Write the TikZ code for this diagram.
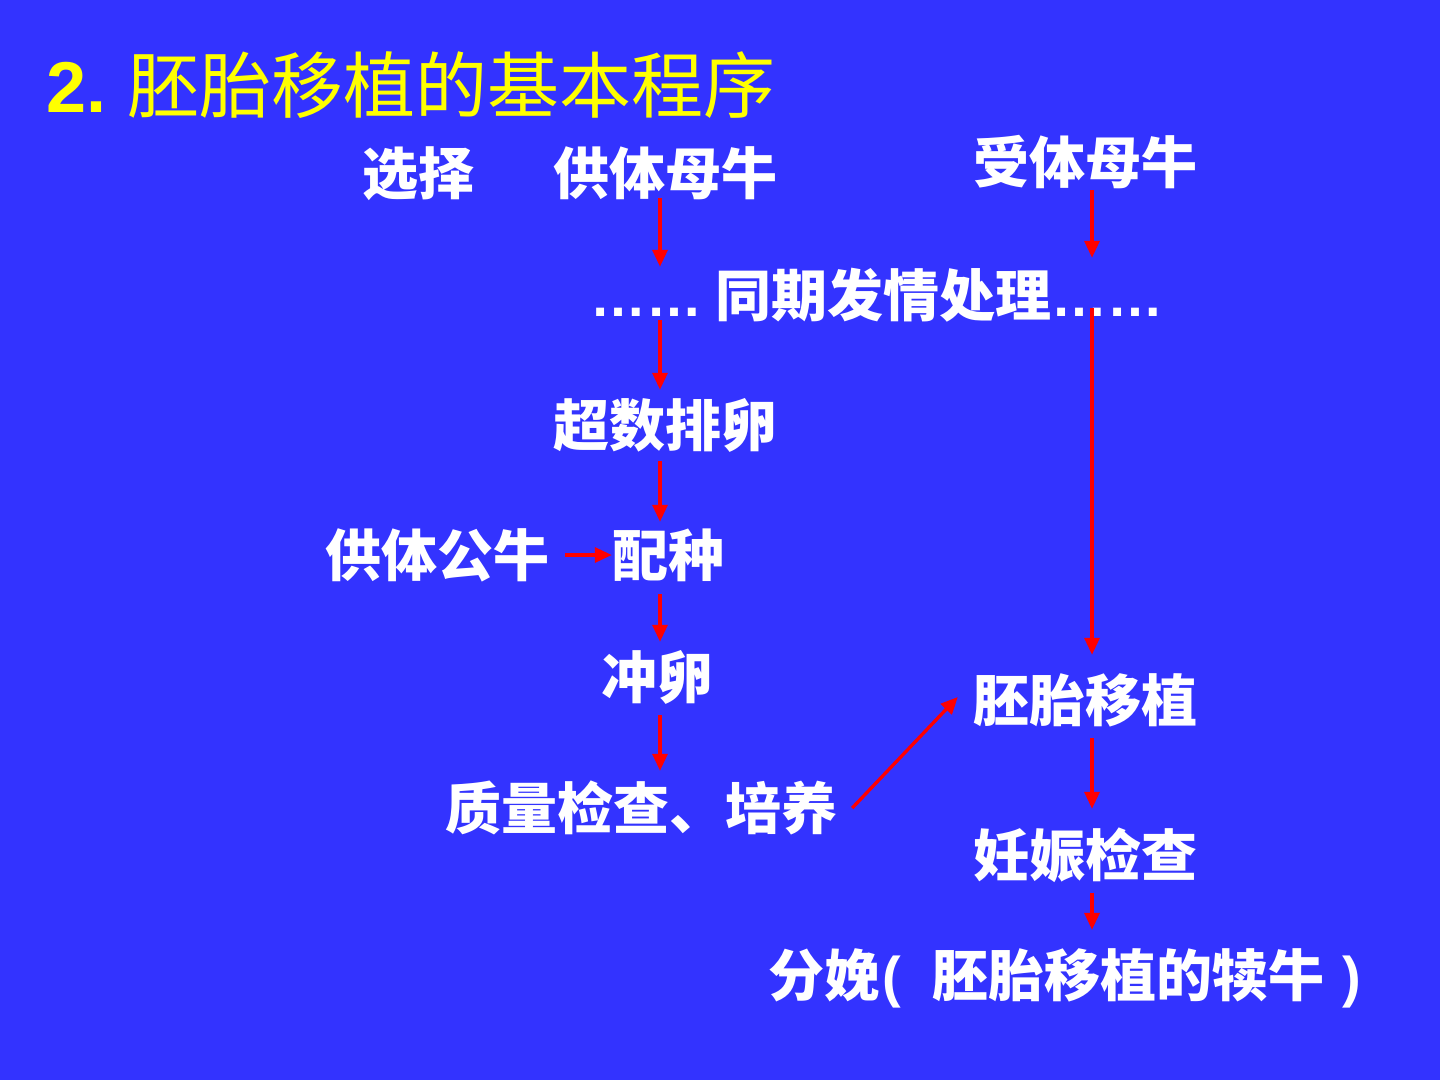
\documentclass[tikz,border=0pt]{standalone}
\usepackage{fontspec}
\setmainfont{Noto Sans CJK SC}
\newfontfamily\lat{Liberation Sans}
\usetikzlibrary{arrows.meta}
\definecolor{bg}{HTML}{3333FF}
\definecolor{ttl}{HTML}{FFFF00}
\definecolor{arr}{HTML}{FF0000}
\begin{document}
\begin{tikzpicture}[x=1pt,y=-1pt,
  lbl/.style={text=white,font=\bfseries\fontsize{56}{60}\selectfont,inner sep=0pt,text height=49pt,text depth=7pt},
  flow/.style={draw=arr,line width=3.3pt,-{Triangle[length=17pt,width=15pt]}}]
\useasboundingbox[fill=bg] (0,0) rectangle (1440,1080);
\node[anchor=base west,text=ttl,inner sep=0pt,font=\fontsize{72}{76}\selectfont] (title) at (46,112) {{\lat\bfseries 2.} 胚胎移植的基本程序};
\node[lbl] (xz) at (418,173) {选择};
\node[lbl] (gong) at (665,173) {供体母牛};
\node[lbl] (shou) at (1085,162) {受体母牛};
\node[lbl] (tq) at (877,295) {{\lat\bfseries ……} 同期发情处理{\lat\bfseries ……}};
\node[lbl] (chao) at (665,425) {超数排卵};
\node[lbl] (gongn) at (437,555) {供体公牛};
\node[lbl] (pz) at (668,555) {配种};
\node[lbl] (cl) at (657,677) {冲卵};
\node[lbl] (zl) at (641,808) {质量检查、培养};
\node[lbl] (pt) at (1085,700) {胚胎移植};
\node[lbl] (rs) at (1085,855) {妊娠检查};
\node[lbl,anchor=west] (fm) at (768,975) {分娩\hspace{2pt}{\lat\bfseries (}\hspace{32pt}胚胎移植的犊牛\hspace{18pt}{\lat\bfseries )}};
\coordinate (L) at (660,0);
\coordinate (R) at (1092,0);
\draw[flow,shorten <=-3pt] (gong.south -| L) -- (tq.north -| L);
\draw[flow,shorten >=9pt] (shou.south -| R) -- (tq.north -| R);
\draw[flow,shorten <=-3pt,shorten >=7pt] (tq.south -| L) -- (chao.north -| L);
\draw[flow,shorten <=-15pt,shorten >=17pt] (tq.south -| R) -- (pt.north -| R);
\draw[flow,shorten <=8pt,shorten >=5pt] (chao.south -| L) -- (pz.north -| L);
\draw[flow,shorten <=16pt] (gongn.east) -- (pz.west);
\draw[flow,shorten <=11pt,shorten >=7pt] (pz.south -| L) -- (cl.north -| L);
\draw[flow,shorten <=10pt,shorten >=9pt] (cl.south -| L) -- (zl.north -| L);
\draw[flow,shorten <=10pt,shorten >=18pt] (pt.south -| R) -- (rs.north -| R);
\draw[flow,shorten <=10pt,shorten >=17pt] (rs.south -| R) -- (fm.north -| R);
\draw[flow] ([xshift=15pt]zl.east) -- ([xshift=-15pt,yshift=3pt]pt.west);
\end{tikzpicture}
\end{document}
